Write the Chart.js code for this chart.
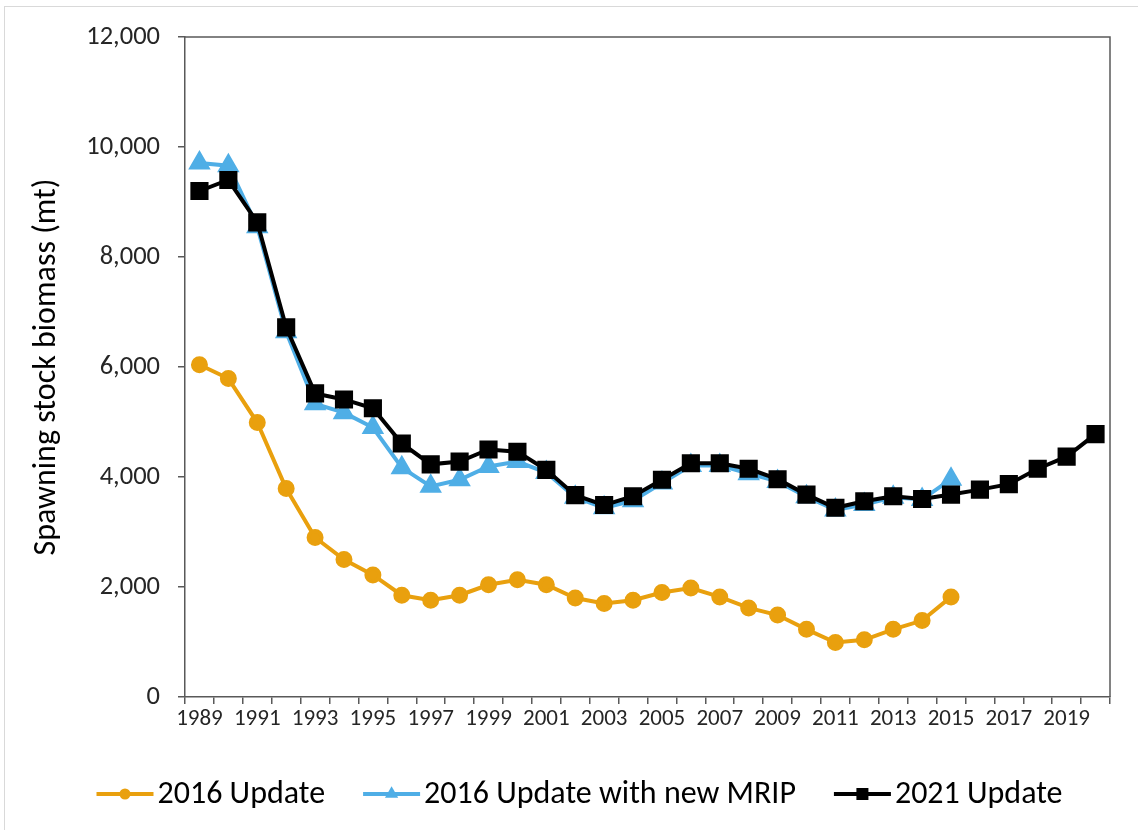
<!DOCTYPE html>
<html>
<head>
<meta charset="utf-8">
<script src="https://cdn.jsdelivr.net/npm/chart.js@4.4.1/dist/chart.umd.min.js"></script>
<style>
  html, body { margin: 0; padding: 0; background: #fff; }
  #wrap { width: 1138px; height: 830px; position: relative; }
</style>
</head>
<body>
<div id="wrap"><canvas id="c" width="1138" height="830"></canvas></div>
<script>
// ---- Data ----
const years = ['1989','1990','1991','1992','1993','1994','1995','1996','1997','1998',
  '1999','2000','2001','2002','2003','2004','2005','2006','2007','2008',
  '2009','2010','2011','2012','2013','2014','2015','2016','2017','2018','2019','2020'];

const update2016 = [6040, 5790, 4990, 3790, 2900, 2500, 2220, 1850, 1760, 1850,
  2040, 2130, 2040, 1800, 1700, 1760, 1900, 1980, 1820, 1620,
  1490, 1230, 990, 1040, 1230, 1390, 1820, null, null, null, null, null];

const update2016MRIP = [9710, 9660, 8550, 6640, 5330, 5170, 4900, 4170, 3830, 3950,
  4190, 4280, 4080, 3630, 3440, 3570, 3890, 4210, 4210, 4060,
  3920, 3640, 3400, 3500, 3630, 3590, 3960, null, null, null, null, null];

const update2021 = [9200, 9400, 8630, 6720, 5520, 5410, 5250, 4610, 4230, 4280,
  4500, 4460, 4130, 3670, 3490, 3650, 3950, 4250, 4250, 4150,
  3960, 3680, 3440, 3560, 3650, 3600, 3680, 3770, 3870, 4150, 4370, 4780];

const seriesNames = ['2016 Update', '2016 Update with new MRIP', '2021 Update'];
const yTicks = [0, 2000, 4000, 6000, 8000, 10000, 12000];

// ---- Styles ----
const FONT = 'Carlito, Calibri, Lato, sans-serif';
const ORANGE = '#E9A00E';
const BLUE = '#4FAEE6';
const BLACK = '#000000';
const AXIS = '#595959';

const framePlugin = {
  id: 'frame',
  beforeDraw(chart) {
    const ctx = chart.ctx;
    ctx.save();
    ctx.fillStyle = '#ffffff';
    ctx.fillRect(0, 0, chart.width, chart.height);
    ctx.strokeStyle = '#d9d9d9';
    ctx.lineWidth = 1;
    ctx.strokeRect(4.5, 6.5, chart.width + 20, chart.height + 20);
    ctx.restore();
  },
  afterDraw(chart) {
    const ctx = chart.ctx;
    const a = chart.chartArea;
    ctx.save();
    ctx.strokeStyle = AXIS;
    ctx.lineWidth = 1.5;
    ctx.beginPath();
    ctx.moveTo(a.left, a.top);
    ctx.lineTo(a.right, a.top);
    ctx.lineTo(a.right, a.bottom);
    ctx.stroke();
    ctx.restore();
  }
};

function drawMarker(ctx, style, x, y, r, color) {
  ctx.fillStyle = color;
  ctx.beginPath();
  if (style === 'circle') {
    ctx.arc(x, y, r, 0, Math.PI * 2);
  } else if (style === 'triangle') {
    ctx.moveTo(x, y - r);
    ctx.lineTo(x + r * 0.866, y + r * 0.5);
    ctx.lineTo(x - r * 0.866, y + r * 0.5);
    ctx.closePath();
  } else {
    const s = r * Math.SQRT1_2;
    ctx.rect(x - s, y - s, 2 * s, 2 * s);
  }
  ctx.fill();
}

const legendPlugin = {
  id: 'customLegend',
  afterDraw(chart) {
    const ctx = chart.ctx;
    ctx.save();
    ctx.font = '32px ' + FONT;
    ctx.textBaseline = 'middle';
    ctx.textAlign = 'left';
    const y = 794;
    const lineLen = 57;
    const gapText = 4;
    const gapItem = 38;
    const widths = chart.data.datasets.map(d => ctx.measureText(d.label).width);
    const total = widths.reduce((s, w) => s + lineLen + gapText + w, 0) + gapItem * (widths.length - 1);
    let x = 579.5 - total / 2;
    chart.data.datasets.forEach((d, i) => {
      ctx.strokeStyle = d.borderColor;
      ctx.lineWidth = 4;
      ctx.beginPath();
      ctx.moveTo(x, y);
      ctx.lineTo(x + lineLen, y);
      ctx.stroke();
      drawMarker(ctx, d.pointStyle, x + lineLen / 2, y, d.pointRadius * 0.85, d.borderColor);
      ctx.fillStyle = '#000';
      ctx.fillText(d.label, x + lineLen + gapText, y + 1);
      x += lineLen + gapText + widths[i] + gapItem;
    });
    ctx.restore();
  }
};

new Chart(document.getElementById('c'), {
  type: 'line',
  data: {
    labels: years,
    datasets: [
      {
        label: seriesNames[0], data: update2016,
        borderColor: ORANGE, backgroundColor: ORANGE,
        pointBackgroundColor: ORANGE, pointBorderColor: ORANGE,
        pointStyle: 'circle', pointRadius: 6.5, borderWidth: 4, order: 2
      },
      {
        label: seriesNames[1], data: update2016MRIP,
        borderColor: BLUE, backgroundColor: BLUE,
        pointBackgroundColor: BLUE, pointBorderColor: BLUE,
        pointStyle: 'triangle', pointRadius: 9, borderWidth: 4, order: 1
      },
      {
        label: seriesNames[2], data: update2021,
        borderColor: BLACK, backgroundColor: BLACK,
        pointBackgroundColor: BLACK, pointBorderColor: BLACK,
        pointStyle: 'rect', pointRadius: 10, borderWidth: 4, order: 0
      }
    ]
  },
  options: {
    responsive: false,
    animation: false,
    spanGaps: false,
    layout: { padding: { left: 24, top: 37, right: 28, bottom: 93 } },
    plugins: {
      legend: { display: false },
      tooltip: { enabled: false },
      title: { display: false }
    },
    elements: { line: { tension: 0 }, point: { borderWidth: 0 } },
    scales: {
      x: {
        type: 'category',
        offset: true,
        afterFit: (s) => { s.height = 40; },
        grid: { display: true, offset: true, drawOnChartArea: false, drawTicks: true, tickLength: 7, color: AXIS, lineWidth: 1.5 },
        border: { display: true, color: AXIS, width: 1.5 },
        ticks: {
          autoSkip: false, maxRotation: 0, minRotation: 0, padding: 1,
          color: '#262626', font: { family: FONT, size: 23 },
          callback: function(val, idx) { return idx % 2 === 0 ? this.getLabelForValue(val) : ''; }
        }
      },
      y: {
        min: 0, max: 12000,
        afterFit: (s) => { s.width = 161; },
        afterBuildTicks: (s) => { s.ticks = yTicks.map(v => ({ value: v })); },
        grid: { display: true, drawOnChartArea: false, drawTicks: true, tickLength: 7, color: AXIS, lineWidth: 1.5 },
        border: { display: true, color: AXIS, width: 1.5 },
        ticks: {
          padding: 18, color: '#262626', font: { family: FONT, size: 26.5 },
          callback: (v) => Number(v).toLocaleString('en-US')
        },
        title: {
          display: true, text: 'Spawning stock biomass (mt)', color: '#000',
          font: { family: FONT, size: 32 }, padding: { top: 4, bottom: 4 }
        }
      }
    }
  },
  plugins: [framePlugin, legendPlugin]
});
</script>
</body>
</html>
